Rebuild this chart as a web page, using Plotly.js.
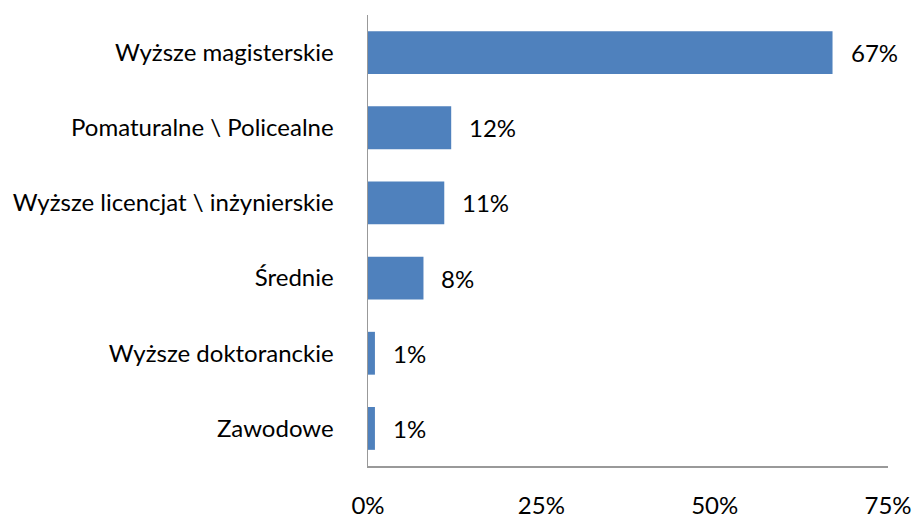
<!DOCTYPE html>
<html><head><meta charset="utf-8">
<script src="https://cdn.plot.ly/plotly-3.0.1.min.js"></script>
<style>body{margin:0;background:#fff}#chart{width:915px;height:521px}</style>
</head><body><div id="chart"></div>
<script>
const categories = ["Wyższe magisterskie", "Pomaturalne \\ Policealne", "Wyższe licencjat \\ inżynierskie", "Średnie", "Wyższe doktoranckie", "Zawodowe"];
const values = [67, 12, 11, 8, 1, 1];
const valueLabels = ["67%", "12%", "11%", "8%", "1%", "1%"];
const tickVals = [0, 25, 50, 75];
const tickText = ["0%", "25%", "50%", "75%"];

const FONT = "Lato, sans-serif";
const FS = 24;
const trace = {
  type: "bar", orientation: "h",
  x: values, y: categories,
  marker: {color: "#4F81BD"},
  hoverinfo: "none"
};
const annotations = values.map((v, i) => ({
  x: v, y: categories[i], xref: "x", yref: "y",
  text: valueLabels[i], showarrow: false, xanchor: "left", xshift: 16,
  font: {family: FONT, size: FS, color: "#000"}
}));
const layout = {
  width: 915, height: 521,
  margin: {l: 368, r: 27, t: 15, b: 55},
  paper_bgcolor: "#fff", plot_bgcolor: "#fff",
  showlegend: false, bargap: 0.43,
  font: {family: FONT, size: FS, color: "#000"},
  xaxis: {
    range: [0, 75], tickvals: tickVals, ticktext: tickText,
    showgrid: false, zeroline: false, showline: true, linecolor: "#999", linewidth: 1.5,
    ticks: "", ticklabelstandoff: 18,
    tickfont: {family: FONT, size: FS, color: "#000"}
  },
  yaxis: {
    categoryorder: "array", categoryarray: categories.slice().reverse(),
    showgrid: false, zeroline: false, showline: true, linecolor: "#999", linewidth: 1.5,
    ticks: "", ticklabelstandoff: 28,
    tickfont: {family: FONT, size: FS, color: "#000"}
  },
  annotations: annotations
};
Plotly.newPlot("chart", [trace], layout, {displayModeBar: false, staticPlot: true});
</script></body></html>
